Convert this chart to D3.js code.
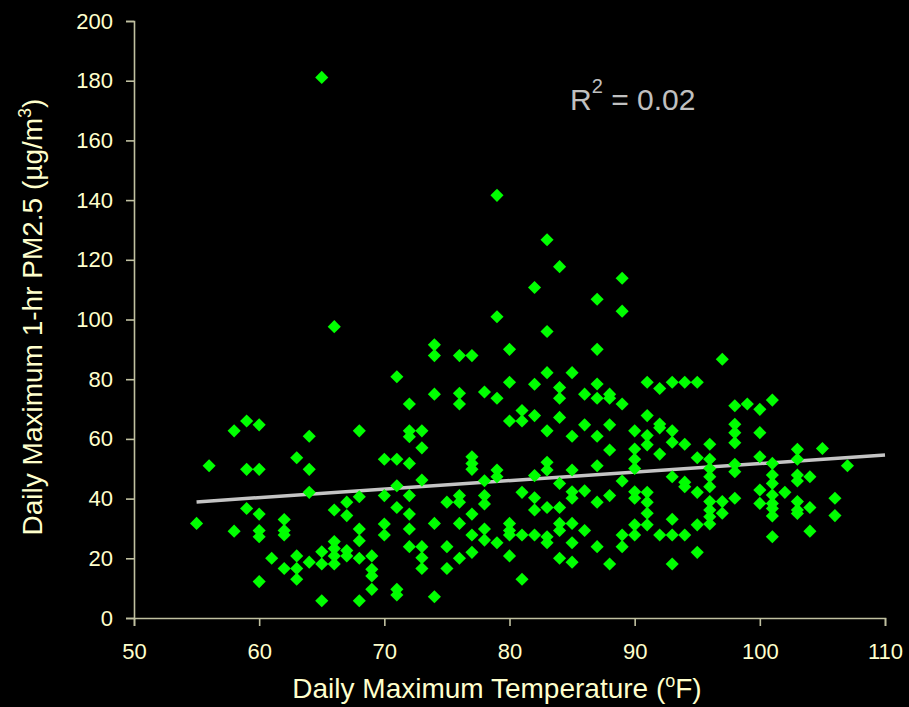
<!DOCTYPE html>
<html>
<head>
<meta charset="utf-8">
<script src="https://cdn.jsdelivr.net/npm/d3@7"></script>
<style>
  html, body { margin: 0; padding: 0; background: #000; }
  svg { display: block; }
</style>
</head>
<body>
<svg id="scatter"></svg>
<script>
const width = 909;
const height = 707;

// temperature (F) -> daily max 1-hr PM2.5 readings
const temps = [55, 56, 58, 59, 60, 61, 62, 63, 64, 65, 66, 67, 68, 69, 70, 71, 72, 73, 74, 75,
  76, 77, 78, 79, 80, 81, 82, 83, 84, 85, 86, 87, 88, 89, 90, 91, 92, 93, 94, 95,
  96, 97, 98, 99, 100, 101, 102, 103, 104, 105, 106, 107];
const pmValues = [
  [31.7],
  [51],
  [62.7, 29.1],
  [66, 49.8, 36.7],
  [64.7, 49.8, 34.8, 29.3, 27.2, 12.2],
  [20],
  [33, 29.3, 27.8, 16.6],
  [53.7, 20.8, 16.6, 13],
  [60.9, 49.8, 42.1, 18.7],
  [181.1, 22.2, 18.1, 5.8],
  [97.6, 36.2, 25.6, 23.3, 20.8, 18.1],
  [38.8, 34.3, 22.6, 20.8],
  [62.7, 40.6, 29.8, 25.9, 20, 5.8],
  [20.8, 16.3, 14.1, 9.6],
  [53.2, 41, 31.5, 27.8],
  [80.8, 53.2, 44.3, 37, 9.6, 7.7],
  [71.7, 62.7, 60.7, 51.8, 41, 34.8, 29.8, 23.9],
  [62.7, 57, 46.2, 23.9, 20.2, 16.6],
  [91.5, 87.9, 75, 31.7, 7.1],
  [38.8, 23.9, 16.6],
  [87.9, 75.3, 71.7, 41, 38.8, 31.7, 20],
  [87.9, 54, 51.8, 49.8, 34.8, 27.8, 22],
  [75.7, 46, 41, 38.2, 29.8, 26.1],
  [141.6, 100.9, 73.6, 49.6, 47.3, 25.2],
  [90, 79, 66, 31.7, 29.3, 27.8, 20.8],
  [69.5, 66, 42.1, 27.8, 13],
  [110.7, 78.3, 67.8, 47.7, 40.3, 36.2, 27.8],
  [126.7, 96, 82.2, 62.7, 52.2, 49.6, 37, 27.2, 25.2],
  [117.7, 77.2, 73.6, 67.2, 45.1, 37, 31.7, 29.3, 20],
  [82.2, 60.9, 49.6, 42.3, 40.1, 31.7, 25.2, 18.7],
  [75, 64.7, 42.6, 29.3],
  [106.8, 90, 78.4, 73.6, 60.9, 51, 38.8, 23.9],
  [75, 73.6, 64.7, 56.3, 41, 18.1],
  [113.8, 102.8, 71.7, 45.9, 27.8, 23.9],
  [62.7, 56.6, 53.2, 50.1, 42.3, 40.1, 31.2, 27.8],
  [79, 67.8, 61.1, 58, 42.1, 38.8, 35.1, 31.2],
  [76.9, 65, 63.7, 54.9, 27.8],
  [79, 62.7, 58.9, 47.3, 33.1, 27.8, 18.1],
  [79, 58.2, 45.5, 44, 27.8],
  [79, 53.7, 42.1, 31.2, 22],
  [58.2, 53.2, 50.1, 47.3, 44, 39, 36.2, 33.9, 31.5],
  [86.7, 39, 35.1],
  [71.1, 64.9, 62.1, 58.7, 51.5, 49, 40.1],
  [71.7],
  [69.9, 62.1, 54, 42.9, 38.4],
  [73, 51.8, 47.9, 45.1, 41.2, 38.4, 36.7, 34.2, 27.2],
  [42.1],
  [56.5, 53.2, 47.9, 45.9, 39, 36.2, 35],
  [47.3, 37, 29.1],
  [56.8],
  [40.1, 34.3],
  [51]
];

// linear trend line end points
const trendX = [55, 110];
const trendY = [38.9, 54.6];

const xTicks = [50, 60, 70, 80, 90, 100, 110];
const yTicks = [0, 20, 40, 60, 80, 100, 120, 140, 160, 180, 200];

const textColor = "#ffffcc";
const axisColor = "#c0c0a0";
const font = "'Liberation Sans', Arial, sans-serif";

const svg = d3.select("svg#scatter")
  .attr("width", width)
  .attr("height", height)
  .style("background", "#000");

svg.append("rect")
  .attr("width", width).attr("height", height)
  .attr("fill", "#000");

const x = d3.scaleLinear().domain([50, 110]).range([134, 885]);
const y = d3.scaleLinear().domain([0, 200]).range([618, 21]);

// flatten into points
const points = [];
temps.forEach((t, i) => pmValues[i].forEach(v => points.push({ t: t, pm: v })));

// axes
const xAxis = svg.append("g")
  .attr("transform", "translate(0," + y(0) + ")")
  .call(d3.axisBottom(x).tickValues(xTicks).tickSize(8).tickPadding(17));
const yAxis = svg.append("g")
  .attr("transform", "translate(" + x(50) + ",0)")
  .call(d3.axisLeft(y).tickValues(yTicks).tickSize(8).tickPadding(13));

[xAxis, yAxis].forEach(g => {
  g.attr("font-family", font).attr("font-size", 22);
  g.selectAll("path, line").attr("stroke", axisColor).attr("stroke-width", 1.6);
  g.selectAll("text").attr("fill", textColor);
});

// trend line
svg.append("line")
  .attr("x1", x(trendX[0])).attr("y1", y(trendY[0]))
  .attr("x2", x(trendX[1])).attr("y2", y(trendY[1]))
  .attr("stroke", "#c4c4c4")
  .attr("stroke-width", 3.5);

// markers
const diamond = d3.symbol().type(d3.symbolSquare).size(86);
svg.append("g")
  .selectAll("path")
  .data(points)
  .enter()
  .append("path")
    .attr("d", diamond)
    .attr("transform", d => "translate(" + x(d.t) + "," + y(d.pm) + ") rotate(45)")
    .attr("fill", "#00ff00");

// trend line goes over? in the reference the line sits under the points
svg.select("line").lower();
svg.select("rect").lower();

// R squared
const r2 = svg.append("text")
  .attr("x", 570).attr("y", 110)
  .attr("font-family", font).attr("font-size", 30)
  .attr("fill", "#c0c0c0");
r2.append("tspan").text("R");
r2.append("tspan").attr("dy", -17).attr("font-size", 20).text("2");
r2.append("tspan").attr("dy", 17).text(" = 0.02");

// axis titles
const xTitle = svg.append("text")
  .attr("x", 497).attr("y", 698)
  .attr("text-anchor", "middle")
  .attr("font-family", font).attr("font-size", 28)
  .attr("fill", textColor);
xTitle.append("tspan").text("Daily Maximum Temperature (");
xTitle.append("tspan").attr("dy", -11).attr("font-size", 18).text("o");
xTitle.append("tspan").attr("dy", 11).text("F)");

const yTitle = svg.append("text")
  .attr("transform", "translate(42,317) rotate(-90)")
  .attr("text-anchor", "middle")
  .attr("font-family", font).attr("font-size", 28)
  .attr("fill", textColor);
yTitle.append("tspan").text("Daily Maximum 1-hr PM2.5 (µg/m");
yTitle.append("tspan").attr("dy", -11).attr("font-size", 18).text("3");
yTitle.append("tspan").attr("dy", 11).text(")");
</script>
</body>
</html>
